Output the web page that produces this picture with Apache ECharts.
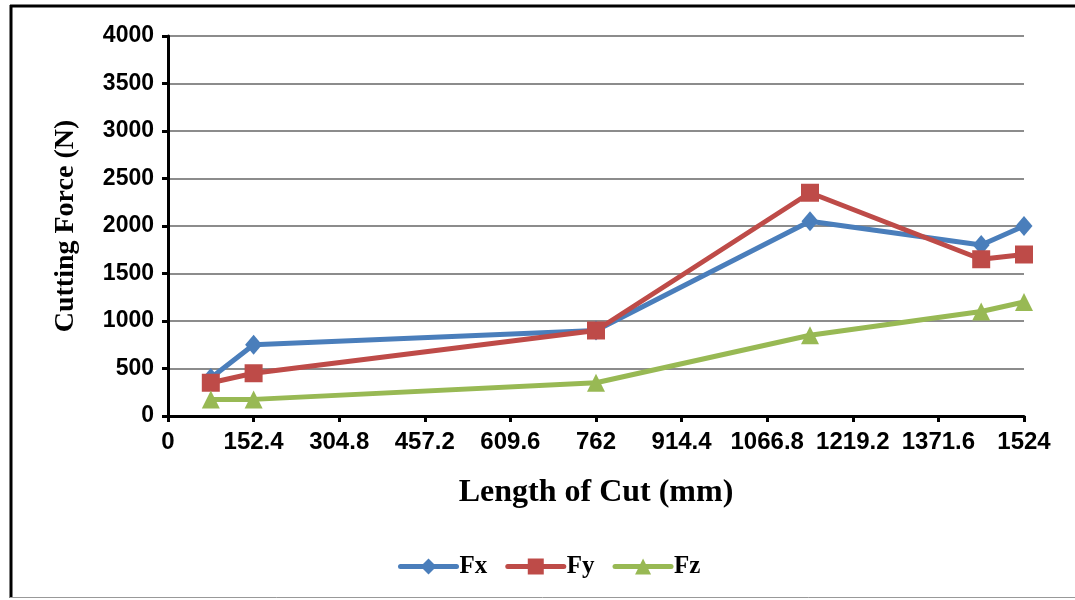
<!DOCTYPE html>
<html>
<head>
<meta charset="utf-8">
<script src="https://cdn.jsdelivr.net/npm/echarts@6/dist/echarts.min.js"></script>
<style>
html,body{margin:0;padding:0;background:#fff;}
#chart{width:1075px;height:600px;}
</style>
</head>
<body>
<div id="chart"></div>
<script>
const xLength = [76.2, 152.4, 762, 1143, 1447.8, 1524];
const fx = [400, 750, 900, 2050, 1800, 2000];
const fy = [350, 450, 900, 2350, 1650, 1700];
const fz = [175, 175, 350, 850, 1100, 1200];
const seriesNames = ['Fx', 'Fy', 'Fz'];

const pair = (xs, ys) => xs.map((x, i) => [x, ys[i]]);

const chart = echarts.init(document.getElementById('chart'));
chart.setOption({
  animation: false,
  backgroundColor: '#fff',
  grid: { left: 168, right: 51, top: 36, height: 380 },
  graphic: [
    { type: 'line', shape: { x1: 11, y1: 5, x2: 11, y2: 598 }, style: { stroke: '#000', lineWidth: 3 } },
    { type: 'line', shape: { x1: 10, y1: 6, x2: 1075, y2: 6 }, style: { stroke: '#000', lineWidth: 3 } },
    { type: 'line', shape: { x1: 10, y1: 597.5, x2: 1075, y2: 597.5 }, style: { stroke: '#999', lineWidth: 1 } }
  ],
  legend: {
    top: 549,
    left: 393,
    itemWidth: 56,
    itemHeight: 20,
    itemGap: 18,
    lineStyle: { width: 5, cap: 'round' },
    textStyle: { fontFamily: 'Liberation Serif', fontWeight: 'bold', fontSize: 25, color: '#000', padding: [0, 0, 0, -2] },
    data: seriesNames
  },
  xAxis: {
    type: 'value',
    min: 0, max: 1524, interval: 152.4,
    name: 'Length of Cut (mm)',
    nameLocation: 'middle',
    nameGap: 61,
    nameTextStyle: { fontFamily: 'Liberation Serif', fontWeight: 'bold', fontSize: 32, color: '#000' },
    axisLine: { show: true, onZero: false, lineStyle: { color: '#000', width: 3 } },
    axisTick: { show: true, length: 6, lineStyle: { color: '#000', width: 3 } },
    axisLabel: {
      margin: 14,
      fontFamily: 'Liberation Sans', fontWeight: 'bold', fontSize: 24, color: '#000',
      formatter: v => String(+v.toFixed(1)),
      showMaxLabel: true, showMinLabel: true, hideOverlap: false
    },
    splitLine: { show: false }
  },
  yAxis: {
    type: 'value',
    min: 0, max: 4000, interval: 500,
    name: 'Cutting Force (N)',
    nameLocation: 'middle',
    nameGap: 88,
    nameTextStyle: { fontFamily: 'Liberation Serif', fontWeight: 'bold', fontSize: 28, color: '#000' },
    axisLine: { show: true, lineStyle: { color: '#000', width: 3 } },
    axisTick: { show: true, length: 6, lineStyle: { color: '#000', width: 3 } },
    axisLabel: { margin: 14, fontFamily: 'Liberation Sans', fontWeight: 'bold', fontSize: 23, color: '#000',
      formatter: v => String(v) },
    splitLine: { show: true, lineStyle: { color: '#8c8c8c', width: 2 } }
  },
  series: [
    { name: seriesNames[0], type: 'line', data: pair(xLength, fx), symbol: 'diamond', symbolSize: [17, 20],
      itemStyle: { color: '#4a7ebb' }, lineStyle: { color: '#4a7ebb', width: 5 } },
    { name: seriesNames[1], type: 'line', data: pair(xLength, fy), symbol: 'rect', symbolSize: 18,
      itemStyle: { color: '#be4b48' }, lineStyle: { color: '#be4b48', width: 5 } },
    { name: seriesNames[2], type: 'line', data: pair(xLength, fz), symbol: 'triangle', symbolSize: 18,
      itemStyle: { color: '#98b954' }, lineStyle: { color: '#98b954', width: 5 } }
  ]
});
</script>
</body>
</html>
